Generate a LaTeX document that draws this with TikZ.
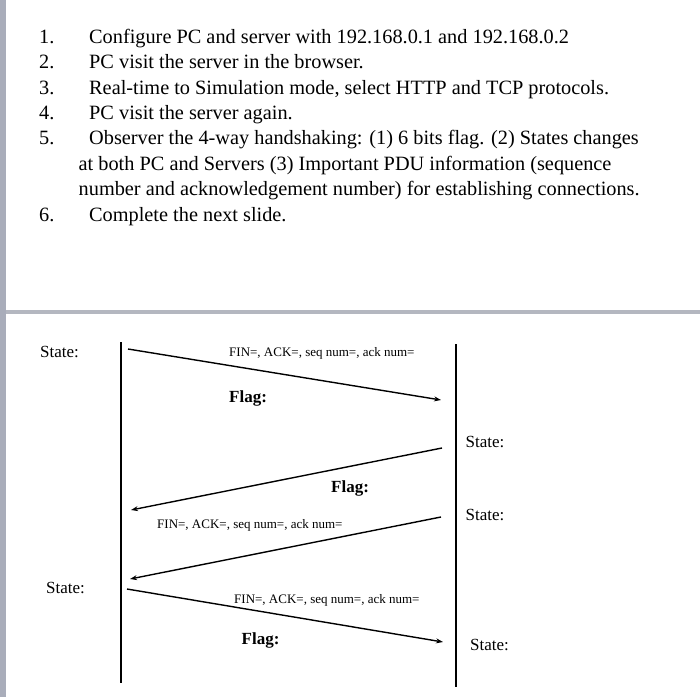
\documentclass[tikz,border=0pt]{standalone}
\usepackage{fontspec}
\setmainfont{Liberation Serif}
\usetikzlibrary{arrows.meta}
\definecolor{bargray}{HTML}{A9ADBA}
\definecolor{rulegray}{HTML}{B4B7C0}
\tikzset{
  listtxt/.style={anchor=base west, inner sep=0pt, font=\fontsize{20.3}{25}\selectfont},
  statetxt/.style={anchor=base west, inner sep=0pt, font=\fontsize{17}{20}\selectfont},
  flagtxt/.style={anchor=base west, inner sep=0pt, font=\fontsize{17}{20}\selectfont\bfseries},
  pdutxt/.style={anchor=base west, inner sep=0pt, font=\fontsize{13}{15}\selectfont},
  lifeline/.style={line width=2pt},
  msg/.style={line width=1.4pt, -{Stealth[length=7pt,width=5pt]}}
}
\begin{document}
\begin{tikzpicture}[x=1pt,y=-1pt]
\useasboundingbox (0,0) rectangle (700,699);
\fill[white] (0,0) rectangle (700,699);
% frame decorations
\fill[bargray] (0,0) rectangle (6,697);
\fill[rulegray] (6,310) rectangle (700,314);
% list
\node[listtxt] (n1) at (39,43) {1.};
\node[listtxt] (t1) at (89,43) {Configure PC and server with 192.168.0.1 and 192.168.0.2};
\node[listtxt] (n2) at (39,68.5) {2.};
\node[listtxt] (t2) at (89,68.5) {PC visit the server in the browser.};
\node[listtxt] (n3) at (39,94) {3.};
\node[listtxt] (t3) at (89,94) {Real-time to Simulation mode, select HTTP and TCP protocols.};
\node[listtxt] (n4) at (39,119) {4.};
\node[listtxt] (t4) at (89,119) {PC visit the server again.};
\node[listtxt] (n5) at (39,144.5) {5.};
\node[listtxt] (t5) at (89,144.5) {Observer the 4-way handshaking: (1) 6 bits flag. (2) States changes};
\node[listtxt] (t5b) at (78.5,170) {at both PC and Servers (3) Important PDU information (sequence};
\node[listtxt] (t5c) at (78.5,195.5) {number and acknowledgement number) for establishing connections.};
\node[listtxt] (n6) at (39,221) {6.};
\node[listtxt] (t6) at (89,221) {Complete the next slide.};
% lifelines
\coordinate (lt) at (120.5,342);
\coordinate (lb) at (120.5,683);
\coordinate (rt) at (455.5,344);
\coordinate (rb) at (455.5,687);
\draw[lifeline] (lt) -- (lb);
\draw[lifeline] (rt) -- (rb);
% message endpoints
\coordinate (a1s) at (128,349);
\coordinate (a1e) at (441,400);
\coordinate (a2s) at (442,448);
\coordinate (a2e) at (131,510);
\coordinate (a3s) at (441,517);
\coordinate (a3e) at (130,579);
\coordinate (a4s) at (127,589);
\coordinate (a4e) at (443,642);
\draw[msg] (a1s) -- (a1e);
\draw[msg] (a2s) -- (a2e);
\draw[msg] (a3s) -- (a3e);
\draw[msg] (a4s) -- (a4e);
% labels
\node[statetxt] (s1) at (40,357) {State:};
\node[pdutxt] (p1) at (229,356) {FIN=, ACK=, seq num=, ack num=};
\node[flagtxt] (f1) at (229,402) {Flag:};
\node[statetxt] (s2) at (465.5,447) {State:};
\node[flagtxt] (f2) at (331,492) {Flag:};
\node[statetxt] (s3) at (465.5,520) {State:};
\node[pdutxt] (p2) at (157,528) {FIN=, ACK=, seq num=, ack num=};
\node[statetxt] (s4) at (46,593) {State:};
\node[pdutxt] (p3) at (234,603) {FIN=, ACK=, seq num=, ack num=};
\node[flagtxt] (f3) at (241.5,644) {Flag:};
\node[statetxt] (s5) at (470,650) {State:};
\end{tikzpicture}
\end{document}
